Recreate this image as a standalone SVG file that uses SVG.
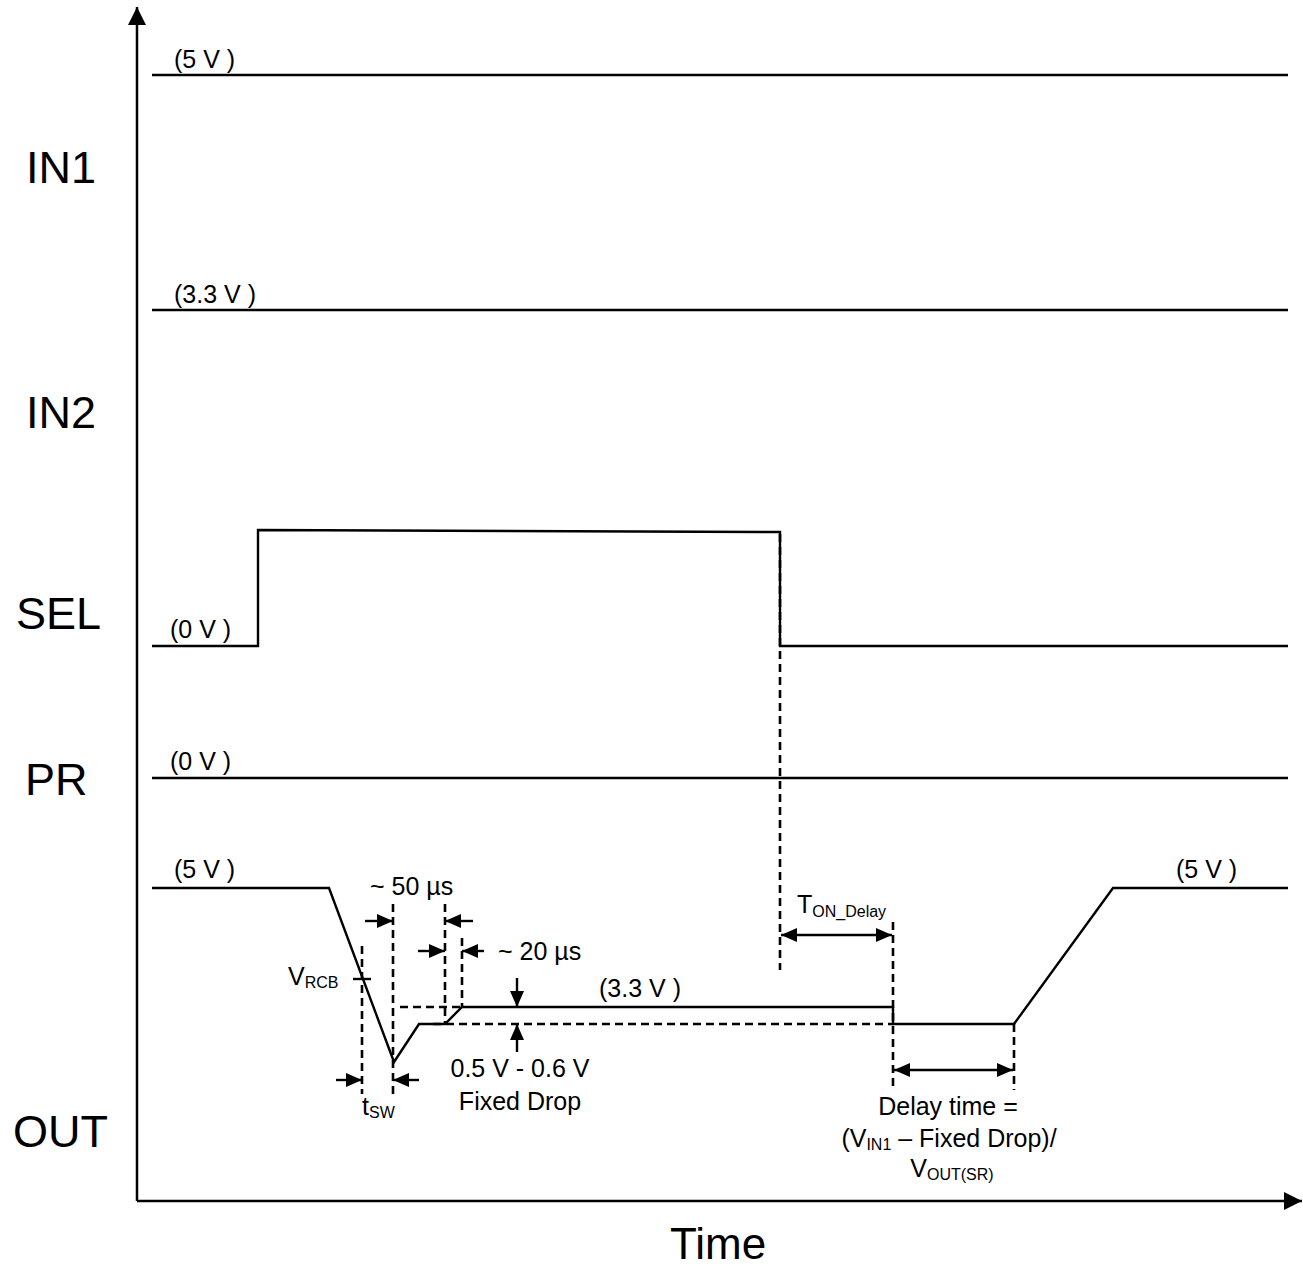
<svg xmlns="http://www.w3.org/2000/svg" width="1303" height="1270" viewBox="0 0 1303 1270">
<defs>
<style>
.sig{fill:none;stroke:#000;stroke-width:2.4;stroke-linejoin:miter}
.dash{fill:none;stroke:#000;stroke-width:2.6;stroke-dasharray:8,5}
.arr{fill:none;stroke:#000;stroke-width:2.4}
.ax{fill:none;stroke:#000;stroke-width:2.5}
.t{font-family:"Liberation Sans",Arial,sans-serif;font-size:25px;fill:#000}
.big{font-family:"Liberation Sans",Arial,sans-serif;font-size:45px;fill:#000}
.sub{font-size:16px}
</style>
<marker id="ah" viewBox="0 0 16 14" refX="16" refY="7" markerWidth="16" markerHeight="14" markerUnits="userSpaceOnUse" orient="auto-start-reverse">
<path d="M0,0 L16,7 L0,14 z" fill="#000"/>
</marker>
<marker id="axh" viewBox="0 0 18 18" refX="18" refY="9" markerWidth="18" markerHeight="18" markerUnits="userSpaceOnUse" orient="auto">
<path d="M0,0 L18,9 L0,18 z" fill="#000"/>
</marker>
</defs>
<rect width="1303" height="1270" fill="#fff"/>

<g id="axes">
<line class="ax" x1="137" y1="1201" x2="137" y2="7" marker-end="url(#axh)"/>
<line class="ax" x1="137" y1="1201" x2="1302" y2="1201" marker-end="url(#axh)"/>
<text class="big" x="670" y="1259" style="font-size:44px">Time</text>
</g>

<g id="in1">
<text class="big" x="26" y="183">IN1</text>
<line class="sig" x1="152" y1="75" x2="1288" y2="75"/>
<text class="t" x="174" y="68">(5 V )</text>
</g>

<g id="in2">
<text class="big" x="26" y="428">IN2</text>
<line class="sig" x1="152" y1="310" x2="1288" y2="310"/>
<text class="t" x="174" y="303">(3.3 V )</text>
</g>

<g id="sel">
<text class="big" x="16" y="629">SEL</text>
<polyline class="sig" points="152,646 258,646 258,530 780,532 780,646 1288,646"/>
<text class="t" x="170" y="638">(0 V )</text>
</g>

<g id="pr">
<text class="big" x="25" y="795">PR</text>
<line class="sig" x1="152" y1="778" x2="1288" y2="778"/>
<text class="t" x="170" y="770">(0 V )</text>
</g>

<g id="out">
<text class="big" x="13" y="1147">OUT</text>
<polyline class="sig" points="152,888 329,888 394,1062 419,1024 445,1024 462,1007 893,1007 893,1024 1014,1024 1113,888 1288,888"/>
<text class="t" x="174" y="878">(5 V )</text>
<text class="t" x="1176" y="878">(5 V )</text>
<text class="t" x="599" y="997">(3.3 V )</text>
</g>

<g id="connectors">
<line class="dash" x1="780" y1="534" x2="780" y2="970"/>
<line class="dash" x1="362" y1="946" x2="362" y2="1094"/>
<line class="dash" x1="393" y1="904" x2="393" y2="1094"/>
<line class="dash" x1="445" y1="904" x2="445" y2="1024"/>
<line class="dash" x1="462" y1="938" x2="462" y2="1007"/>
<line class="dash" x1="400" y1="1007" x2="462" y2="1007"/>
<line class="dash" x1="433" y1="1024" x2="893" y2="1024"/>
<line class="dash" x1="893" y1="922" x2="893" y2="1090"/>
<line class="dash" x1="1014" y1="1024" x2="1014" y2="1090"/>
<line class="arr" x1="353" y1="979" x2="371" y2="979"/>
<line class="arr" x1="365" y1="921" x2="393" y2="921" marker-end="url(#ah)"/>
<line class="arr" x1="473" y1="921" x2="445" y2="921" marker-end="url(#ah)"/>
<line class="arr" x1="418" y1="951" x2="445" y2="951" marker-end="url(#ah)"/>
<line class="arr" x1="484" y1="951" x2="462" y2="951" marker-end="url(#ah)"/>
<line class="arr" x1="517" y1="978" x2="517" y2="1007" marker-end="url(#ah)"/>
<line class="arr" x1="517" y1="1052" x2="517" y2="1024" marker-end="url(#ah)"/>
<line class="arr" x1="336" y1="1080" x2="362" y2="1080" marker-end="url(#ah)"/>
<line class="arr" x1="419" y1="1080" x2="393" y2="1080" marker-end="url(#ah)"/>
<line class="arr" x1="781" y1="935" x2="892" y2="935" marker-start="url(#ah)" marker-end="url(#ah)"/>
<line class="arr" x1="894" y1="1070" x2="1013" y2="1070" marker-start="url(#ah)" marker-end="url(#ah)"/>
</g>

<g id="labels">
<text class="t" x="370" y="895">~ 50 µs</text>
<text class="t" x="498" y="960">~ 20 µs</text>
<text class="t" x="288" y="985">V<tspan class="sub" dy="3">RCB</tspan></text>
<text class="t" x="362" y="1115">t<tspan class="sub" dy="3">SW</tspan></text>
<text class="t" x="520" y="1077" text-anchor="middle">0.5 V - 0.6 V</text>
<text class="t" x="520" y="1110" text-anchor="middle">Fixed Drop</text>
<text class="t" x="797" y="913">T<tspan class="sub" dy="4">ON_Delay</tspan></text>
<text class="t" x="948" y="1115" text-anchor="middle">Delay time =</text>
<text class="t" x="949" y="1147" text-anchor="middle">(V<tspan class="sub" dy="3">IN1</tspan><tspan dy="-3"> – Fixed Drop)/</tspan></text>
<text class="t" x="952" y="1177" text-anchor="middle">V<tspan class="sub" dy="3">OUT(SR)</tspan></text>
</g>
</svg>
